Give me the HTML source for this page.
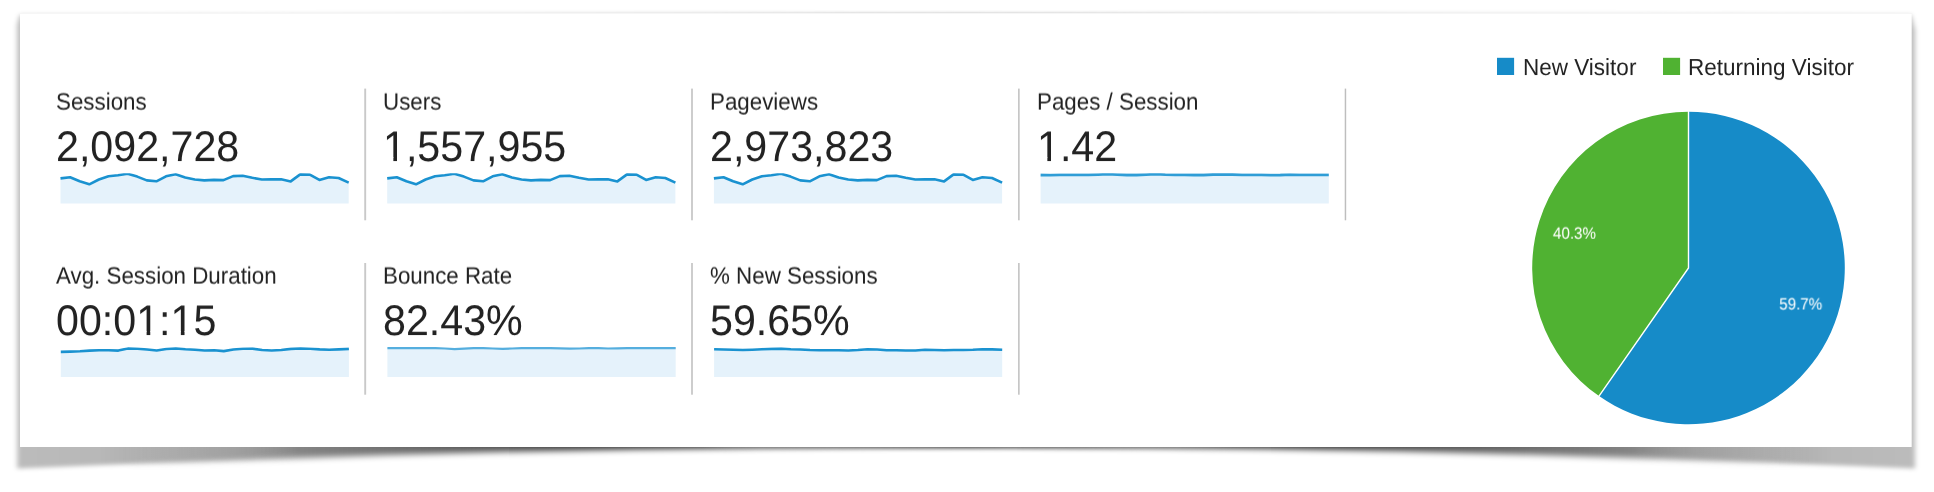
<!DOCTYPE html>
<html><head><meta charset="utf-8"><title>Audience Overview</title>
<style>
html,body{margin:0;padding:0;background:#fff;}
body{width:1934px;height:492px;position:relative;overflow:hidden;font-family:"Liberation Sans",Arial,sans-serif;color:#222;}
#bg{position:absolute;left:0;top:0;}
.lbl,.val,.leg,.pl{will-change:transform;text-rendering:geometricPrecision;}
.lbl{position:absolute;white-space:nowrap;color:#222;}
.val{position:absolute;white-space:nowrap;color:#222;}
.leg{position:absolute;white-space:nowrap;color:#222;}
.pl{position:absolute;color:#fff;white-space:nowrap;}
#fg{position:absolute;left:0;top:0;}
</style></head><body>
<svg id="bg" width="1934" height="492" viewBox="0 0 1934 492">
<defs>
<filter id="b1" x="-2%" y="-5%" width="104%" height="115%"><feGaussianBlur stdDeviation="2.4 2.0"/></filter>
<filter id="b2" x="-2%" y="-5%" width="104%" height="120%"><feGaussianBlur stdDeviation="3.2"/></filter>
<linearGradient id="ga" gradientUnits="userSpaceOnUse" x1="16.5" x2="1915.5" y1="0" y2="0">
<stop offset="0.0000" stop-color="#000" stop-opacity="0.265"/>
<stop offset="0.0440" stop-color="#000" stop-opacity="0.280"/>
<stop offset="0.0808" stop-color="#000" stop-opacity="0.340"/>
<stop offset="0.1177" stop-color="#000" stop-opacity="0.410"/>
<stop offset="0.1598" stop-color="#000" stop-opacity="0.480"/>
<stop offset="0.2283" stop-color="#000" stop-opacity="0.620"/>
<stop offset="0.3073" stop-color="#000" stop-opacity="0.720"/>
<stop offset="0.4021" stop-color="#000" stop-opacity="0.850"/>
<stop offset="0.5000" stop-color="#000" stop-opacity="0.900"/>
<stop offset="0.5979" stop-color="#000" stop-opacity="0.850"/>
<stop offset="0.6927" stop-color="#000" stop-opacity="0.720"/>
<stop offset="0.7717" stop-color="#000" stop-opacity="0.620"/>
<stop offset="0.8402" stop-color="#000" stop-opacity="0.480"/>
<stop offset="0.8823" stop-color="#000" stop-opacity="0.410"/>
<stop offset="0.9192" stop-color="#000" stop-opacity="0.340"/>
<stop offset="0.9560" stop-color="#000" stop-opacity="0.280"/>
<stop offset="1.0000" stop-color="#000" stop-opacity="0.265"/>
</linearGradient>
<linearGradient id="gb" gradientUnits="userSpaceOnUse" x1="16.5" x2="1915.5" y1="0" y2="0">
<stop offset="0.0000" stop-color="#000" stop-opacity="0.300"/>
<stop offset="0.1177" stop-color="#000" stop-opacity="0.420"/>
<stop offset="0.1598" stop-color="#000" stop-opacity="0.500"/>
<stop offset="0.1914" stop-color="#000" stop-opacity="0.550"/>
<stop offset="0.2546" stop-color="#000" stop-opacity="0.680"/>
<stop offset="0.3073" stop-color="#000" stop-opacity="0.820"/>
<stop offset="0.3599" stop-color="#000" stop-opacity="0.950"/>
<stop offset="0.4126" stop-color="#000" stop-opacity="1.000"/>
<stop offset="0.5000" stop-color="#000" stop-opacity="1.000"/>
<stop offset="0.5874" stop-color="#000" stop-opacity="1.000"/>
<stop offset="0.6401" stop-color="#000" stop-opacity="0.950"/>
<stop offset="0.6927" stop-color="#000" stop-opacity="0.820"/>
<stop offset="0.7454" stop-color="#000" stop-opacity="0.680"/>
<stop offset="0.8086" stop-color="#000" stop-opacity="0.550"/>
<stop offset="0.8402" stop-color="#000" stop-opacity="0.500"/>
<stop offset="0.8823" stop-color="#000" stop-opacity="0.420"/>
<stop offset="1.0000" stop-color="#000" stop-opacity="0.300"/>
</linearGradient>
<linearGradient id="m1" gradientUnits="userSpaceOnUse" x1="16.5" x2="1915.5" y1="0" y2="0">
<stop offset="0.0000" stop-color="rgb(255,255,255)"/>
<stop offset="0.0545" stop-color="rgb(255,255,255)"/>
<stop offset="0.1493" stop-color="rgb(0,0,0)"/>
<stop offset="0.3599" stop-color="rgb(0,0,0)"/>
<stop offset="0.4442" stop-color="rgb(178,178,178)"/>
<stop offset="0.5000" stop-color="rgb(230,230,230)"/>
<stop offset="0.5558" stop-color="rgb(178,178,178)"/>
<stop offset="0.6401" stop-color="rgb(0,0,0)"/>
<stop offset="0.8507" stop-color="rgb(0,0,0)"/>
<stop offset="0.9455" stop-color="rgb(255,255,255)"/>
<stop offset="1.0000" stop-color="rgb(255,255,255)"/>
</linearGradient>
<linearGradient id="m2" gradientUnits="userSpaceOnUse" x1="16.5" x2="1915.5" y1="0" y2="0">
<stop offset="0.0000" stop-color="rgb(0,0,0)"/>
<stop offset="0.0545" stop-color="rgb(0,0,0)"/>
<stop offset="0.1493" stop-color="rgb(255,255,255)"/>
<stop offset="0.3599" stop-color="rgb(255,255,255)"/>
<stop offset="0.4442" stop-color="rgb(77,77,77)"/>
<stop offset="0.5000" stop-color="rgb(25,25,25)"/>
<stop offset="0.5558" stop-color="rgb(77,77,77)"/>
<stop offset="0.6401" stop-color="rgb(255,255,255)"/>
<stop offset="0.8507" stop-color="rgb(255,255,255)"/>
<stop offset="0.9455" stop-color="rgb(0,0,0)"/>
<stop offset="1.0000" stop-color="rgb(0,0,0)"/>
</linearGradient>
<mask id="ms" maskUnits="userSpaceOnUse" x="0" y="0" width="1934" height="492"><rect width="1934" height="492" fill="url(#m1)"/></mask>
<mask id="mf" maskUnits="userSpaceOnUse" x="0" y="0" width="1934" height="492"><rect width="1934" height="492" fill="url(#m2)"/></mask>
</defs>
<g mask="url(#ms)"><path d="M17.2,25 L20,15 L1911,15 L1915,30 L1915,468.4 Q966,427.6 17.2,468.4 Z" fill="url(#ga)" filter="url(#b1)"/></g>
<g mask="url(#mf)"><path d="M16.5,17 L1915.5,17 L1915.5,470.5 Q966,421.3 16.5,470.5 Z" fill="url(#gb)" filter="url(#b2)"/></g>
<rect x="20" y="13.4" width="1891.7" height="433.6" fill="#fff"/>
<rect x="20" y="13" width="1892" height="1" fill="#f6f6f6"/>
</svg>

<svg id="fg" width="1934" height="492" viewBox="0 0 1934 492"><defs><clipPath id="c1"><rect x="0" y="173.3" width="1934" height="40"/></clipPath><clipPath id="c2"><rect x="0" y="347.2" width="1934" height="40"/></clipPath></defs>
<g clip-path="url(#c1)"><path d="M60.5,178.4 L70.1,177.2 L79.7,181.3 L89.3,184.3 L98.9,179.5 L108.5,176.3 L118.0,175.3 L127.6,173.7 L137.2,176.6 L146.8,180.4 L156.4,181.3 L166.0,176.3 L175.6,174.3 L185.2,177.5 L194.8,179.5 L204.3,180.4 L213.9,179.9 L223.5,180.1 L233.1,176.1 L242.7,175.8 L252.3,177.8 L261.9,179.5 L271.5,179.4 L281.1,179.2 L290.7,181.4 L300.2,174.4 L309.8,174.6 L319.4,179.9 L329.0,177.2 L338.6,178.0 L348.7,182.6 L348.7,203.4 L60.5,203.4 Z" fill="#e5f2fb"/><path d="M60.5,178.4 L70.1,177.2 L79.7,181.3 L89.3,184.3 L98.9,179.5 L108.5,176.3 L118.0,175.3 L127.6,173.7 L137.2,176.6 L146.8,180.4 L156.4,181.3 L166.0,176.3 L175.6,174.3 L185.2,177.5 L194.8,179.5 L204.3,180.4 L213.9,179.9 L223.5,180.1 L233.1,176.1 L242.7,175.8 L252.3,177.8 L261.9,179.5 L271.5,179.4 L281.1,179.2 L290.7,181.4 L300.2,174.4 L309.8,174.6 L319.4,179.9 L329.0,177.2 L338.6,178.0 L348.7,182.6" fill="none" stroke="#1a92d0" stroke-width="2.6" stroke-linejoin="round" stroke-linecap="butt"/></g>
<g clip-path="url(#c1)"><path d="M387.2,178.4 L396.8,177.2 L406.4,181.3 L416.0,184.3 L425.6,179.5 L435.1,176.3 L444.7,175.3 L454.3,173.7 L463.9,176.6 L473.5,180.4 L483.1,181.3 L492.7,176.3 L502.3,174.3 L511.9,177.5 L521.5,179.5 L531.0,180.4 L540.6,179.9 L550.2,180.1 L559.8,176.1 L569.4,175.8 L579.0,177.8 L588.6,179.5 L598.2,179.4 L607.8,179.2 L617.4,181.4 L627.0,174.4 L636.5,174.6 L646.1,179.9 L655.7,177.2 L665.3,178.0 L675.4,182.6 L675.4,203.4 L387.2,203.4 Z" fill="#e5f2fb"/><path d="M387.2,178.4 L396.8,177.2 L406.4,181.3 L416.0,184.3 L425.6,179.5 L435.1,176.3 L444.7,175.3 L454.3,173.7 L463.9,176.6 L473.5,180.4 L483.1,181.3 L492.7,176.3 L502.3,174.3 L511.9,177.5 L521.5,179.5 L531.0,180.4 L540.6,179.9 L550.2,180.1 L559.8,176.1 L569.4,175.8 L579.0,177.8 L588.6,179.5 L598.2,179.4 L607.8,179.2 L617.4,181.4 L627.0,174.4 L636.5,174.6 L646.1,179.9 L655.7,177.2 L665.3,178.0 L675.4,182.6" fill="none" stroke="#1a92d0" stroke-width="2.6" stroke-linejoin="round" stroke-linecap="butt"/></g>
<g clip-path="url(#c1)"><path d="M713.9,178.4 L723.5,177.2 L733.1,181.3 L742.7,184.3 L752.3,179.5 L761.9,176.3 L771.4,175.3 L781.0,173.7 L790.6,176.6 L800.2,180.4 L809.8,181.3 L819.4,176.3 L829.0,174.3 L838.6,177.5 L848.2,179.5 L857.8,180.4 L867.3,179.9 L876.9,180.1 L886.5,176.1 L896.1,175.8 L905.7,177.8 L915.3,179.5 L924.9,179.4 L934.5,179.2 L944.1,181.4 L953.6,174.4 L963.2,174.6 L972.8,179.9 L982.4,177.2 L992.0,178.0 L1002.1,182.6 L1002.1,203.4 L713.9,203.4 Z" fill="#e5f2fb"/><path d="M713.9,178.4 L723.5,177.2 L733.1,181.3 L742.7,184.3 L752.3,179.5 L761.9,176.3 L771.4,175.3 L781.0,173.7 L790.6,176.6 L800.2,180.4 L809.8,181.3 L819.4,176.3 L829.0,174.3 L838.6,177.5 L848.2,179.5 L857.8,180.4 L867.3,179.9 L876.9,180.1 L886.5,176.1 L896.1,175.8 L905.7,177.8 L915.3,179.5 L924.9,179.4 L934.5,179.2 L944.1,181.4 L953.6,174.4 L963.2,174.6 L972.8,179.9 L982.4,177.2 L992.0,178.0 L1002.1,182.6" fill="none" stroke="#1a92d0" stroke-width="2.6" stroke-linejoin="round" stroke-linecap="butt"/></g>
<g clip-path="url(#c1)"><path d="M1040.6,175.0 L1050.2,175.1 L1059.8,174.8 L1069.4,174.9 L1079.0,174.9 L1088.5,174.9 L1098.1,174.6 L1107.7,174.2 L1117.3,174.6 L1126.9,175.0 L1136.5,175.0 L1146.1,174.6 L1155.7,174.1 L1165.3,174.7 L1174.9,174.9 L1184.4,174.9 L1194.0,175.0 L1203.6,175.0 L1213.2,174.5 L1222.8,174.3 L1232.4,174.5 L1242.0,174.9 L1251.6,174.9 L1261.2,174.8 L1270.8,175.1 L1280.3,175.0 L1289.9,174.6 L1299.5,174.9 L1309.1,174.9 L1318.7,174.9 L1328.8,174.9 L1328.8,203.4 L1040.6,203.4 Z" fill="#e5f2fb"/><path d="M1040.6,175.0 L1050.2,175.1 L1059.8,174.8 L1069.4,174.9 L1079.0,174.9 L1088.5,174.9 L1098.1,174.6 L1107.7,174.2 L1117.3,174.6 L1126.9,175.0 L1136.5,175.0 L1146.1,174.6 L1155.7,174.1 L1165.3,174.7 L1174.9,174.9 L1184.4,174.9 L1194.0,175.0 L1203.6,175.0 L1213.2,174.5 L1222.8,174.3 L1232.4,174.5 L1242.0,174.9 L1251.6,174.9 L1261.2,174.8 L1270.8,175.1 L1280.3,175.0 L1289.9,174.6 L1299.5,174.9 L1309.1,174.9 L1318.7,174.9 L1328.8,174.9" fill="none" stroke="#2f9dd6" stroke-width="2.8" stroke-linejoin="round" stroke-linecap="butt"/></g>
<g clip-path="url(#c2)"><path d="M60.8,351.9 L70.4,351.6 L80.0,351.3 L89.6,350.6 L99.1,350.3 L108.7,350.2 L118.3,350.6 L127.9,348.4 L137.5,348.7 L147.1,349.5 L156.7,350.5 L166.3,349.0 L175.8,348.4 L185.4,349.2 L195.0,349.7 L204.6,350.5 L214.2,350.3 L223.8,351.1 L233.4,349.5 L242.9,348.7 L252.5,348.6 L262.1,350.0 L271.7,350.5 L281.3,350.0 L290.9,348.9 L300.5,348.4 L310.1,348.7 L319.6,349.4 L329.2,349.7 L338.8,349.4 L348.9,348.9 L348.9,377.0 L60.8,377.0 Z" fill="#e5f2fb"/><path d="M60.8,351.9 L70.4,351.6 L80.0,351.3 L89.6,350.6 L99.1,350.3 L108.7,350.2 L118.3,350.6 L127.9,348.4 L137.5,348.7 L147.1,349.5 L156.7,350.5 L166.3,349.0 L175.8,348.4 L185.4,349.2 L195.0,349.7 L204.6,350.5 L214.2,350.3 L223.8,351.1 L233.4,349.5 L242.9,348.7 L252.5,348.6 L262.1,350.0 L271.7,350.5 L281.3,350.0 L290.9,348.9 L300.5,348.4 L310.1,348.7 L319.6,349.4 L329.2,349.7 L338.8,349.4 L348.9,348.9" fill="none" stroke="#1a92d0" stroke-width="2.6" stroke-linejoin="round" stroke-linecap="butt"/></g>
<g><path d="M387.4,348.2 L397.0,348.2 L406.6,348.2 L416.2,348.2 L425.8,348.2 L435.4,348.2 L445.0,348.5 L454.6,349.2 L464.1,348.7 L473.7,348.2 L483.3,348.2 L492.9,348.5 L502.5,348.9 L512.1,348.5 L521.7,348.2 L531.3,348.2 L540.9,348.2 L550.5,348.2 L560.1,348.4 L569.7,348.6 L579.3,348.5 L588.9,348.2 L598.5,348.2 L608.0,348.5 L617.6,348.4 L627.2,348.2 L636.8,348.2 L646.4,348.2 L656.0,348.2 L665.6,348.2 L675.7,348.2 L675.7,377.0 L387.4,377.0 Z" fill="#e5f2fb"/><path d="M387.4,348.2 L397.0,348.2 L406.6,348.2 L416.2,348.2 L425.8,348.2 L435.4,348.2 L445.0,348.5 L454.6,349.2 L464.1,348.7 L473.7,348.2 L483.3,348.2 L492.9,348.5 L502.5,348.9 L512.1,348.5 L521.7,348.2 L531.3,348.2 L540.9,348.2 L550.5,348.2 L560.1,348.4 L569.7,348.6 L579.3,348.5 L588.9,348.2 L598.5,348.2 L608.0,348.5 L617.6,348.4 L627.2,348.2 L636.8,348.2 L646.4,348.2 L656.0,348.2 L665.6,348.2 L675.7,348.2" fill="none" stroke="#55aede" stroke-width="2.2" stroke-linejoin="round" stroke-linecap="butt"/></g>
<g clip-path="url(#c2)"><path d="M714.1,349.2 L723.7,349.5 L733.3,349.8 L742.9,350.0 L752.4,349.7 L762.0,349.2 L771.6,348.9 L781.2,348.6 L790.8,349.2 L800.4,349.5 L810.0,350.0 L819.6,350.2 L829.1,350.2 L838.7,350.3 L848.3,350.5 L857.9,350.0 L867.5,349.2 L877.1,349.5 L886.7,350.2 L896.2,350.3 L905.8,350.5 L915.4,350.5 L925.0,349.7 L934.6,350.0 L944.2,350.2 L953.8,350.0 L963.4,350.0 L972.9,349.8 L982.5,349.2 L992.1,349.4 L1002.2,349.8 L1002.2,377.0 L714.1,377.0 Z" fill="#e5f2fb"/><path d="M714.1,349.2 L723.7,349.5 L733.3,349.8 L742.9,350.0 L752.4,349.7 L762.0,349.2 L771.6,348.9 L781.2,348.6 L790.8,349.2 L800.4,349.5 L810.0,350.0 L819.6,350.2 L829.1,350.2 L838.7,350.3 L848.3,350.5 L857.9,350.0 L867.5,349.2 L877.1,349.5 L886.7,350.2 L896.2,350.3 L905.8,350.5 L915.4,350.5 L925.0,349.7 L934.6,350.0 L944.2,350.2 L953.8,350.0 L963.4,350.0 L972.9,349.8 L982.5,349.2 L992.1,349.4 L1002.2,349.8" fill="none" stroke="#1a92d0" stroke-width="2.6" stroke-linejoin="round" stroke-linecap="butt"/></g><path d="M1688.5,267.95 L1688.5,111.64999999999998 A156.3,156.3 0 1 1 1599.03,396.11 Z" fill="#168bc8" stroke="#fff" stroke-width="0"/>
<path d="M1688.5,267.95 L1599.03,396.11 A156.3,156.3 0 0 1 1688.5,111.64999999999998 Z" fill="#50b232" stroke="#fff" stroke-width="0"/><path d="M1688.5,110.64999999999998 L1688.5,267.95 L1598.46,396.93" fill="none" stroke="#fff" stroke-width="1.4" stroke-linejoin="miter"/><rect x="1497" y="57.8" width="17.1" height="17.2" fill="#168bc8"/><rect x="1663" y="57.8" width="17.1" height="17.2" fill="#50b232"/></svg>
<main class="overview">
<section class="metric">
<div class="lbl" style="left:56px;top:87px;font-size:22.35px;line-height:29px;transform-origin:0 22.24px;transform:translate(0.00px,0.94px) scaleY(1.06) skewX(0.01deg);">Sessions</div>
<div class="val" style="left:56px;top:119px;font-size:41.2px;line-height:54px;transform-origin:0 41.28px;transform:translate(0.00px,0.72px) scaleY(1.04) skewX(0.01deg);">2,092,728</div>
</section>
<section class="metric">
<div class="lbl" style="left:383px;top:87px;font-size:22.35px;line-height:29px;transform-origin:0 22.24px;transform:translate(0.00px,0.94px) scaleY(1.06) skewX(0.01deg);">Users</div>
<div class="val" style="left:383px;top:119px;font-size:41.2px;line-height:54px;transform-origin:0 41.28px;transform:translate(0.00px,0.72px) scaleY(1.04) skewX(0.01deg);">1,557,955</div>
</section>
<section class="metric">
<div class="lbl" style="left:710px;top:87px;font-size:22.35px;line-height:29px;transform-origin:0 22.24px;transform:translate(0.00px,0.94px) scaleY(1.06) skewX(0.01deg);">Pageviews</div>
<div class="val" style="left:710px;top:119px;font-size:41.2px;line-height:54px;transform-origin:0 41.28px;transform:translate(0.00px,0.72px) scaleY(1.04) skewX(0.01deg);">2,973,823</div>
</section>
<section class="metric">
<div class="lbl" style="left:1037px;top:87px;font-size:22.35px;line-height:29px;transform-origin:0 22.24px;transform:translate(0.00px,0.94px) scaleY(1.06) skewX(0.01deg);">Pages / Session</div>
<div class="val" style="left:1037px;top:119px;font-size:41.2px;line-height:54px;transform-origin:0 41.28px;transform:translate(0.00px,0.72px) scaleY(1.04) skewX(0.01deg);">1.42</div>
</section>
<section class="metric">
<div class="lbl" style="left:56px;top:261px;font-size:22.35px;line-height:29px;transform-origin:0 22.24px;transform:translate(0.00px,0.94px) scaleY(1.06) skewX(0.01deg);">Avg. Session Duration</div>
<div class="val" style="left:56px;top:293px;font-size:41.2px;line-height:54px;transform-origin:0 41.28px;transform:translate(0.00px,0.72px) scaleY(1.04) skewX(0.01deg);">00:01:15</div>
</section>
<section class="metric">
<div class="lbl" style="left:383px;top:261px;font-size:22.35px;line-height:29px;transform-origin:0 22.24px;transform:translate(0.00px,0.94px) scaleY(1.06) skewX(0.01deg);">Bounce Rate</div>
<div class="val" style="left:383px;top:293px;font-size:41.2px;line-height:54px;transform-origin:0 41.28px;transform:translate(0.00px,0.72px) scaleY(1.04) skewX(0.01deg);">82.43%</div>
</section>
<section class="metric">
<div class="lbl" style="left:710px;top:261px;font-size:22.35px;line-height:29px;transform-origin:0 22.24px;transform:translate(0.00px,0.94px) scaleY(1.06) skewX(0.01deg);">% New Sessions</div>
<div class="val" style="left:710px;top:293px;font-size:41.2px;line-height:54px;transform-origin:0 41.28px;transform:translate(0.00px,0.72px) scaleY(1.04) skewX(0.01deg);">59.65%</div>
</section>
</main>
<svg id="dv" width="1934" height="492" viewBox="0 0 1934 492" style="position:absolute;left:0;top:0"><rect x="364.25" y="88.6" width="1.9" height="131.7" fill="#c9c9c9"/><rect x="691.05" y="88.6" width="1.9" height="131.7" fill="#cbcbcb"/><rect x="1018.00" y="88.6" width="1.7" height="131.7" fill="#c6c6c6"/><rect x="1344.73" y="88.6" width="1.45" height="131.7" fill="#bebebe"/><rect x="364.25" y="263.0" width="1.9" height="131.7" fill="#c9c9c9"/><rect x="691.05" y="263.0" width="1.9" height="131.7" fill="#cbcbcb"/><rect x="1018.00" y="263.0" width="1.7" height="131.7" fill="#c6c6c6"/></svg>
<aside class="visitors">
<div class="leg" style="left:1523px;top:52px;font-size:22.5px;line-height:29px;transform-origin:0 22.30px;transform:translate(0.00px,0.95px) scaleY(1.04) skewX(0.01deg);">New Visitor</div>
<div class="leg" style="left:1688px;top:52px;font-size:22.5px;line-height:29px;transform-origin:0 22.30px;transform:translate(0.00px,0.95px) scaleY(1.04) skewX(0.01deg);">Returning Visitor</div>
<div class="pl" style="left:1552px;top:224px;font-size:15.2px;line-height:20px;transform-origin:0 15.27px;transform:translate(0.95px,0.93px) scaleY(1.08) skewX(0.01deg);">40.3%</div>
<div class="pl" style="left:1779px;top:295px;font-size:15.2px;line-height:20px;transform-origin:0 15.27px;transform:translate(0.25px,0.73px) scaleY(1.08) skewX(0.01deg);">59.7%</div>
</aside>
<svg id="ft" width="1934" height="492" viewBox="0 0 1934 492" style="position:absolute;left:0;top:0"><rect x="385" y="157" width="8.35" height="5" fill="#fff"/><rect x="397.0" y="157" width="8.50" height="5" fill="#fff"/><rect x="1039" y="157" width="8.35" height="5" fill="#fff"/><rect x="1051.0" y="157" width="8.50" height="5" fill="#fff"/><rect x="138" y="331" width="8.60" height="5" fill="#fff"/><rect x="150.26" y="331" width="8.24" height="5" fill="#fff"/><rect x="172.5" y="331" width="8.36" height="5" fill="#fff"/><rect x="184.51" y="331" width="8.49" height="5" fill="#fff"/></svg>
</body></html>
